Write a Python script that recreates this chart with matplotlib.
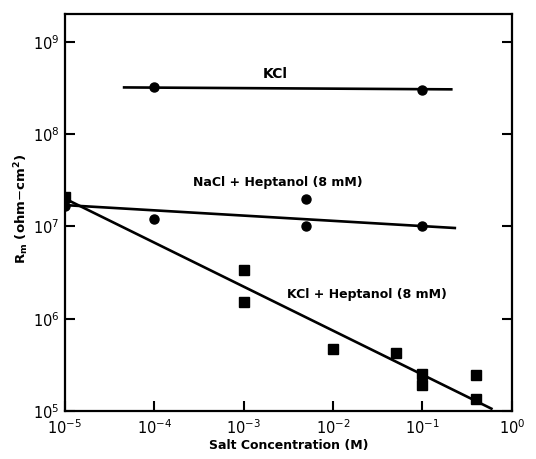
import matplotlib
matplotlib.use('Agg')
import matplotlib.pyplot as plt

# KCl (circles)
kcl_x = [1e-4, 1e-1]
kcl_y = [3.2e8, 3.0e8]
kcl_fit_x = [4.6e-5, 0.21]
kcl_fit_y = [3.2e8, 3.05e8]

# NaCl + Heptanol (circles)
nacl_x = [1e-5, 1e-4, 5e-3, 5e-3, 1e-1]
nacl_y = [1.66e7, 1.2e7, 2.0e7, 1.0e7, 1.0e7]
nacl_fit_x = [1e-5, 0.23]
nacl_fit_y = [1.7e7, 9.6e6]

# KCl + Heptanol (squares)
kclh_x = [1e-5, 1e-3, 1e-3, 1e-2, 5e-2, 1e-1, 1e-1, 0.4, 0.4]
kclh_y = [2.07e7, 3.35e6, 1.52e6, 4.67e5, 4.25e5, 2.5e5, 1.9e5, 2.45e5, 1.35e5]
kclh_fit_x = [1e-5, 0.59]
kclh_fit_y = [2.0e7, 1.06e5]

x_ticks = [1e-5, 1e-4, 1e-3, 1e-2, 1e-1, 1]
x_labels = [r'$10^{-5}$', r'$10^{-4}$', r'$10^{-3}$', r'$10^{-2}$', r'$10^{-1}$', r'$10^{0}$']
y_ticks = [1e5, 1e6, 1e7, 1e8, 1e9]
y_labels = [r'$10^{5}$', r'$10^{6}$', r'$10^{7}$', r'$10^{8}$', r'$10^{9}$']

plt.rcParams['font.family'] = 'DejaVu Sans'
plt.rcParams['mathtext.fontset'] = 'dejavusans'

fig = plt.figure(figsize=(5.36, 4.59), dpi=100)
ax = fig.add_axes([0.121, 0.1046, 0.834, 0.865])

lw = 1.9
ax.plot(kcl_fit_x, kcl_fit_y, color='black', lw=lw)
ax.plot(kcl_x, kcl_y, 'o', color='black', ms=6.5)
ax.plot(nacl_fit_x, nacl_fit_y, color='black', lw=lw)
ax.plot(nacl_x, nacl_y, 'o', color='black', ms=6.5)
ax.plot(kclh_fit_x, kclh_fit_y, color='black', lw=lw)
ax.plot(kclh_x, kclh_y, 's', color='black', ms=6.5)

ax.set_xscale('log')
ax.set_yscale('log')
ax.set_xlim(1e-5, 1)
ax.set_ylim(1e5, 2e9)
ax.minorticks_off()

ax.set_xticks(x_ticks)
ax.set_xticklabels(x_labels, fontsize=10.5)
ax.set_yticks(y_ticks)
ax.set_yticklabels(y_labels, fontsize=10.5)
ax.tick_params(axis='both', direction='in', length=7, width=1.5)
ax.tick_params(axis='x', pad=5)
ax.tick_params(axis='y', right=True, pad=4)
for s in ax.spines.values():
    s.set_linewidth(1.6)

ax.text(2.24e-3, 4.5e8, 'KCl', ha='center', va='center', fontsize=10, fontweight='bold')
ax.text(2.4e-3, 3.0e7, 'NaCl + Heptanol (8 mM)', ha='center', va='center', fontsize=9, fontweight='bold')
ax.text(2.4e-2, 1.82e6, 'KCl + Heptanol (8 mM)', ha='center', va='center', fontsize=9, fontweight='bold')

ax.set_xlabel('Salt Concentration (M)', fontsize=9, fontweight='bold', labelpad=2)
ax.set_ylabel(r'$\mathbf{R_m}$ (ohm$-$cm$^{\mathbf{2}}$)', fontsize=9.5, fontweight='bold')
ax.yaxis.set_label_coords(-0.075, 0.51)

fig.savefig('out.png', dpi=100)
